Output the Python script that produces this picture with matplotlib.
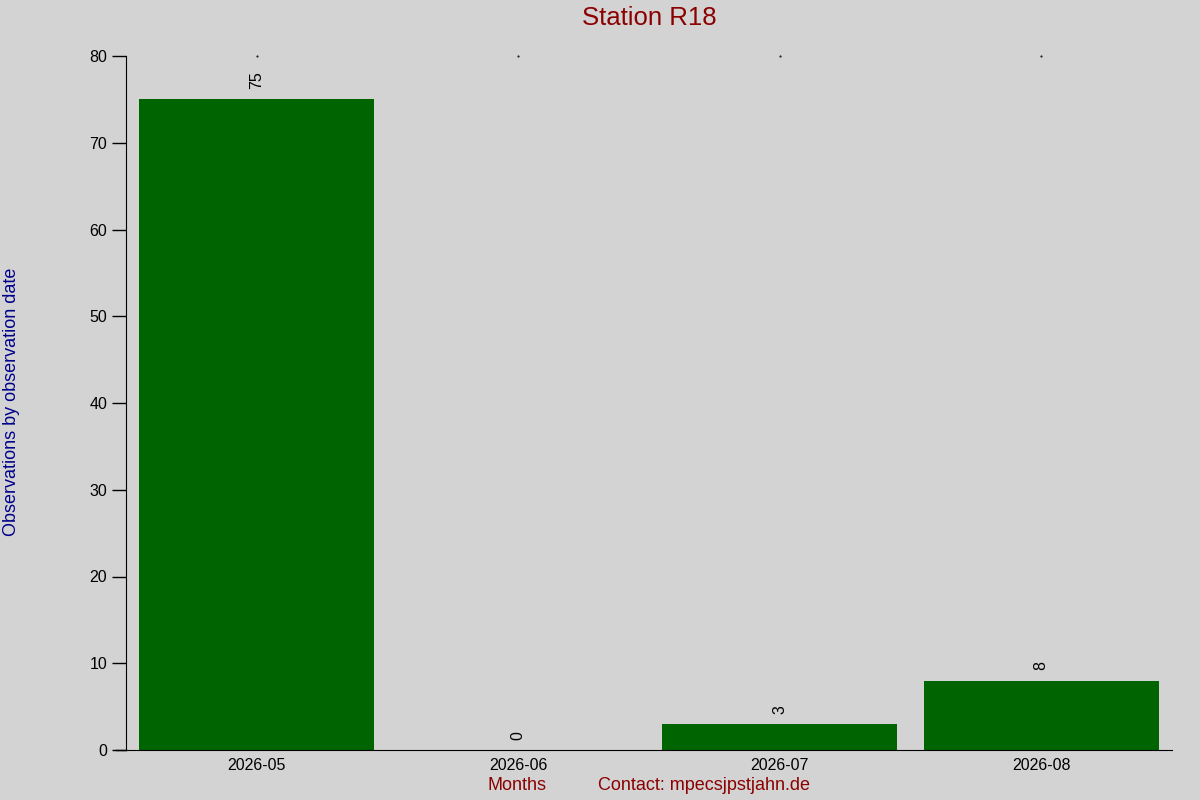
import matplotlib.pyplot as plt

# data
months = ['2026-05', '2026-06', '2026-07', '2026-08']
counts = [75, 0, 3, 8]
yticks = [0, 10, 20, 30, 40, 50, 60, 70, 80]

plt.rcParams['font.family'] = ['Liberation Sans', 'DejaVu Sans']

fig = plt.figure(figsize=(12, 8), dpi=100, facecolor='#d3d3d3')
ax = fig.add_axes([126 / 1200, 50 / 800, (1172 - 126) / 1200, (750 - 56) / 800])
ax.set_facecolor('#d3d3d3')

xpos = list(range(len(months)))
ax.bar(xpos, counts, width=0.9, color='#006400')
for x, c in zip(xpos, counts):
    ax.text(x, c + 1.2, str(c), rotation=90, ha='center', va='bottom',
            fontsize=11.5, color='black')

ax.set_xlim(-0.5, 3.5)
ax.set_ylim(0, 80)
ax.set_yticks(yticks)
ax.set_xticks(xpos)
ax.set_xticklabels(months, fontsize=11.5)
ax.tick_params(axis='y', labelsize=11.5, length=10, direction='out', width=1)
ax.tick_params(axis='x', length=0, pad=6)

for side in ['top', 'right']:
    ax.spines[side].set_visible(False)
ax.spines['bottom'].set_bounds(-0.5, 3.5)

# small marks along the top at each category
for x in xpos:
    ax.plot([x], [80], marker='.', markersize=1, color='black', clip_on=False)

# bottom line extends under the y ticks
ax.plot([-0.5 - 10 / 261, -0.5], [0, 0], color='black', lw=1, clip_on=False)

fig.text(649 / 1200, 1 - 18 / 800, 'Station R18', ha='center', va='center',
         fontsize=18.5, color='#8b0000')
fig.text(12 / 1200, 1 - 402 / 800, 'Observations by observation date',
         rotation=90, ha='center', va='center', fontsize=13, color='#00008b')
fig.text(517 / 1200, 1 - 786 / 800, 'Months', ha='center', va='center',
         fontsize=13, color='#8b0000')
fig.text(704 / 1200, 1 - 786 / 800, 'Contact: mpecsjpstjahn.de', ha='center',
         va='center', fontsize=13, color='#8b0000')

fig.savefig('out.png', dpi=100, facecolor=fig.get_facecolor())
